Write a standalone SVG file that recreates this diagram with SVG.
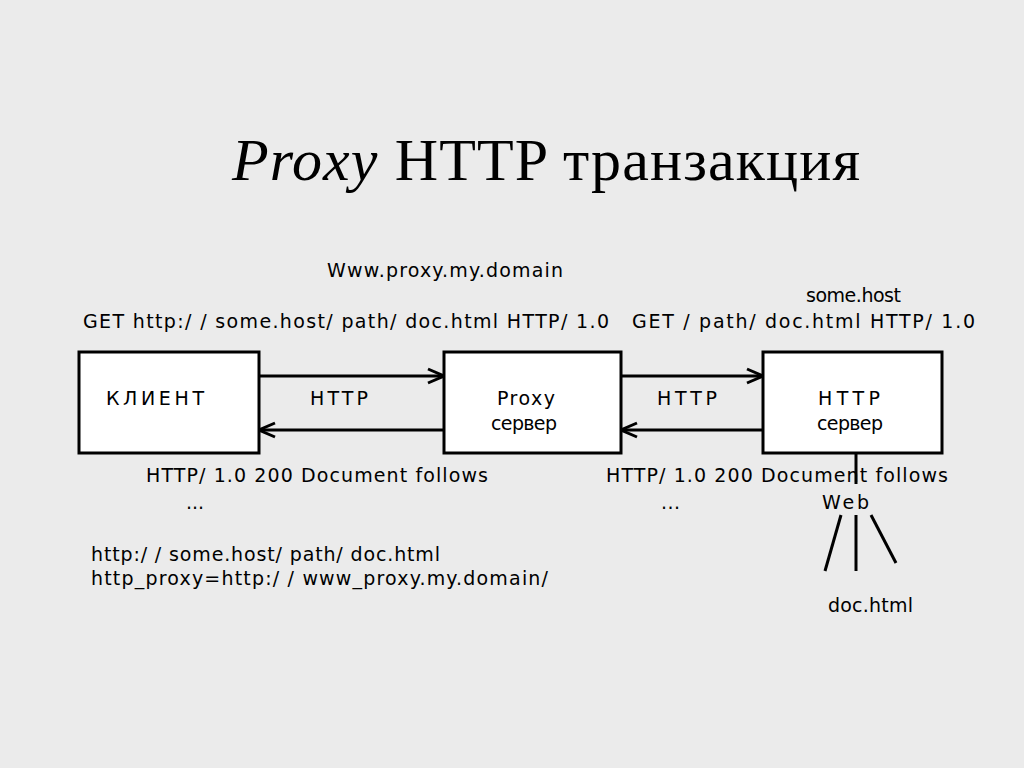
<svg xmlns="http://www.w3.org/2000/svg" width="1024" height="768" viewBox="0 0 1024 768">
<defs>
<style>
.bg{fill:#ebebeb}
.box{fill:#ffffff;stroke:#000;stroke-width:3}
.ln{stroke:#000;stroke-width:3;fill:none}
.t{font-family:"DejaVu Sans","Liberation Sans",sans-serif;font-size:19px;fill:#000}
.title{font-family:"Liberation Serif","Times New Roman",serif;font-size:60px;fill:#000}
</style>
<marker id="ah" viewBox="0 0 20 20" refX="19" refY="10" markerWidth="20" markerHeight="20" markerUnits="userSpaceOnUse" orient="auto">
<path d="M3,3 L19,10 L3,17" fill="none" stroke="#000" stroke-width="3"/>
</marker>
</defs>
<rect class="bg" x="0" y="0" width="1024" height="768"/>
<text class="title" x="232" y="180" textLength="628"><tspan font-style="italic">Proxy</tspan> HTTP транзакция</text>
<text class="t" x="327" y="277" textLength="236">Www.proxy.my.domain</text>
<text class="t" x="806" y="302" textLength="95">some.host</text>
<text class="t" x="83" y="328" textLength="526">GET http:/ / some.host/ path/ doc.html HTTP/ 1.0</text>
<text class="t" x="632" y="328" textLength="343">GET / path/ doc.html HTTP/ 1.0</text>
<g id="client">
<rect class="box" x="79" y="352" width="180" height="101"/>
<text class="t" x="106" y="405" textLength="98">КЛИЕНТ</text>
</g>
<g id="proxy">
<rect class="box" x="444" y="352" width="177" height="101"/>
<text class="t" x="497" y="405" textLength="58">Proxy</text>
<text class="t" x="491" y="430" textLength="66">сервер</text>
</g>
<g id="server">
<rect class="box" x="763" y="352" width="179" height="101"/>
<text class="t" x="818" y="405" textLength="62">HTTP</text>
<text class="t" x="817" y="430" textLength="66">сервер</text>
</g>
<g id="connectors">
<line class="ln" x1="259" y1="376" x2="444" y2="376" marker-end="url(#ah)"/>
<line class="ln" x1="444" y1="430" x2="259" y2="430" marker-end="url(#ah)"/>
<line class="ln" x1="621" y1="376" x2="763" y2="376" marker-end="url(#ah)"/>
<line class="ln" x1="763" y1="430" x2="621" y2="430" marker-end="url(#ah)"/>
<line class="ln" x1="856" y1="453" x2="856" y2="484"/>
<line class="ln" x1="841" y1="515" x2="825" y2="571"/>
<line class="ln" x1="856" y1="515" x2="856" y2="571"/>
<line class="ln" x1="871" y1="515" x2="896" y2="563"/>
</g>
<text class="t" x="310" y="405" textLength="58">HTTP</text>
<text class="t" x="657" y="405" textLength="60">HTTP</text>
<text class="t" x="146" y="482" textLength="342">HTTP/ 1.0 200 Document follows</text>
<text class="t" x="186" y="509" textLength="18">...</text>
<text class="t" x="606" y="482" textLength="342">HTTP/ 1.0 200 Document follows</text>
<text class="t" x="661" y="509" textLength="19">...</text>
<text class="t" x="822" y="509" textLength="47">Web</text>
<text class="t" x="91" y="561" textLength="349">http:/ / some.host/ path/ doc.html</text>
<text class="t" x="91" y="585" textLength="457">http_proxy=http:/ / www_proxy.my.domain/</text>
<text class="t" x="828" y="612" textLength="85">doc.html</text>
</svg>
